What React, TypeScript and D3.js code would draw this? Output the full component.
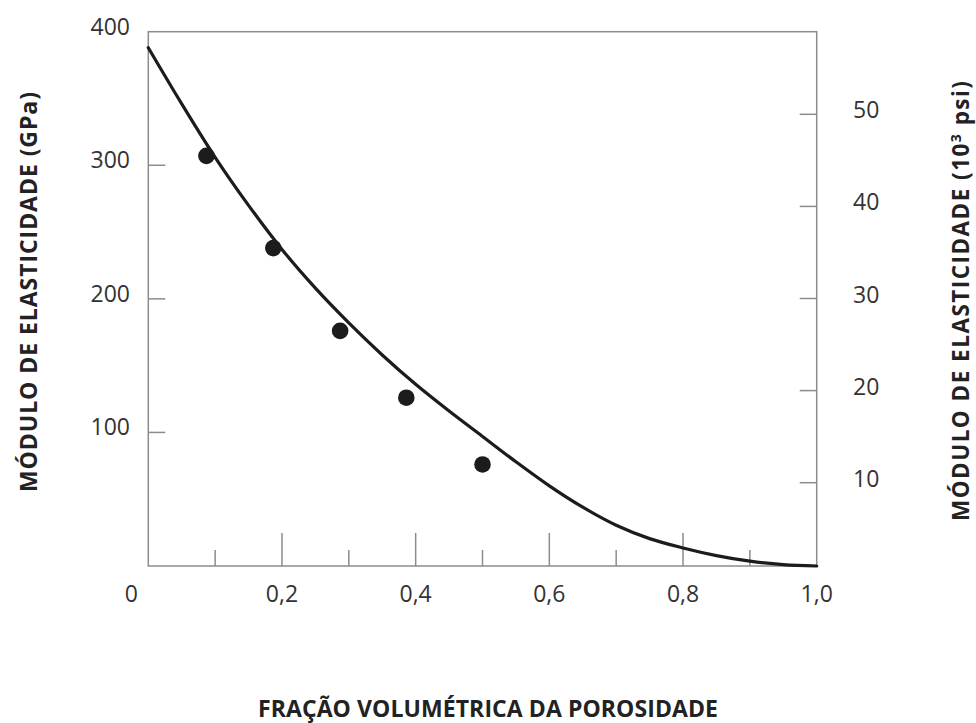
import React from "react";
import * as d3 from "d3";

// Porosity volume fraction (x) vs elastic modulus (GPa)
const curveP = [0, 0.05, 0.1, 0.15, 0.2, 0.25, 0.3, 0.35, 0.4, 0.45, 0.5, 0.55, 0.6, 0.65, 0.7, 0.75, 0.8, 0.85, 0.9, 0.95, 1.0];
const curveE = [388, 346, 306, 270, 237, 208, 182, 158, 136, 116, 97, 78, 60, 44, 30.5, 20.5, 13.5, 7.8, 3.6, 1, 0];

const pointP = [0.087, 0.187, 0.287, 0.386, 0.5];
const pointE = [307, 238, 176, 126, 76];

const xMinorTicks = [0.1, 0.3, 0.5, 0.7, 0.9];
const xMajorTicks = [0.2, 0.4, 0.6, 0.8];
const xLabelValues = [0, 0.2, 0.4, 0.6, 0.8, 1.0];
const xLabelTexts = ["0", "0,2", "0,4", "0,6", "0,8", "1,0"];

const gpaTicks = [100, 200, 300];
const gpaLabels = [100, 200, 300, 400];
const psiTicks = [10, 20, 30, 40, 50];

const xTitle = "FRAÇÃO VOLUMÉTRICA DA POROSIDADE";
const leftTitle = "MÓDULO DE ELASTICIDADE (GPa)";
const rightTitleMain = "MÓDULO DE ELASTICIDADE (10";
const rightTitleSup = "3";
const rightTitleEnd = " psi)";

const W = 976;
const H = 723;
const left = 148.3;
const right = 816.7;
const top = 31.7;
const bottom = 566;

const FONT = "'Open Sans', 'Noto Sans', sans-serif";
const FRAME = "#8c8c8c";
const INK = "#1c1c1c";
const TEXT = "#333";

export default function App() {
  const x = d3.scaleLinear().domain([0, 1]).range([left, right]);
  const y = d3.scaleLinear().domain([0, 400]).range([bottom, top]);
  const yPsi = d3.scaleLinear().domain([0, 60]).range([574.8, 22.2]);

  const line = d3
    .line<number>()
    .x((_, i) => x(curveP[i]))
    .y((e) => y(e))
    .curve(d3.curveMonotoneX);

  return (
    <svg
      width={W}
      height={H}
      viewBox={`0 0 ${W} ${H}`}
      style={{ position: "absolute", left: 0, top: 0, background: "#fff" }}
    >
      <rect x={0} y={0} width={W} height={H} fill="#fff" />

      {/* frame */}
      <rect
        x={left}
        y={top}
        width={right - left}
        height={bottom - top}
        fill="none"
        stroke={FRAME}
        strokeWidth={1.5}
      />

      {/* bottom ticks */}
      {xMinorTicks.map((v) => (
        <line key={`mn${v}`} x1={x(v)} x2={x(v)} y1={bottom} y2={bottom - 16} stroke={FRAME} strokeWidth={1.5} />
      ))}
      {xMajorTicks.map((v) => (
        <line key={`mj${v}`} x1={x(v)} x2={x(v)} y1={bottom} y2={bottom - 33} stroke={FRAME} strokeWidth={1.5} />
      ))}

      {/* left ticks */}
      {gpaTicks.map((v) => (
        <line key={`g${v}`} x1={left} x2={left + 17} y1={y(v)} y2={y(v)} stroke={FRAME} strokeWidth={1.5} />
      ))}

      {/* right ticks */}
      {psiTicks.map((v) => (
        <line key={`p${v}`} x1={right} x2={right - 17} y1={yPsi(v)} y2={yPsi(v)} stroke={FRAME} strokeWidth={1.5} />
      ))}

      {/* x labels */}
      {xLabelValues.map((v, i) => (
        <text
          key={`xl${v}`}
          x={v === 0 ? x(v) - 17 : x(v)}
          y={601.5}
          textAnchor="middle"
          fontFamily={FONT}
          fontSize={23}
          fill={TEXT}
        >
          {xLabelTexts[i]}
        </text>
      ))}

      {/* left labels */}
      {gpaLabels.map((v) => (
        <text key={`gl${v}`} x={130} y={y(v) + 3} textAnchor="end" fontFamily={FONT} fontSize={23} fill={TEXT}>
          {v}
        </text>
      ))}

      {/* right labels */}
      {psiTicks.map((v) => (
        <text key={`pl${v}`} x={853} y={yPsi(v) + 4} textAnchor="start" fontFamily={FONT} fontSize={23} fill={TEXT}>
          {v}
        </text>
      ))}

      {/* fitted curve */}
      <path d={line(curveE) ?? ""} fill="none" stroke={INK} strokeWidth={3.2} strokeLinecap="round" />

      {/* measured points */}
      {pointP.map((p, i) => (
        <circle key={`pt${i}`} cx={x(p)} cy={y(pointE[i])} r={8.3} fill={INK} />
      ))}

      {/* axis titles */}
      <text
        x={488}
        y={716.5}
        textAnchor="middle"
        fontFamily={FONT}
        fontWeight={700}
        fontSize={23}
        textLength={460}
        fill="#222"
      >
        {xTitle}
      </text>
      <text
        transform="translate(36.5, 292) rotate(-90)"
        textAnchor="middle"
        fontFamily={FONT}
        fontWeight={700}
        fontSize={23}
        textLength={400}
        fill="#222"
      >
        {leftTitle}
      </text>
      <text
        transform="translate(969, 301) rotate(-90)"
        textAnchor="middle"
        fontFamily={FONT}
        fontWeight={700}
        fontSize={22.5}
        textLength={440}
        fill="#222"
      >
        {rightTitleMain}
        <tspan dy={-8} fontSize={14}>
          {rightTitleSup}
        </tspan>
        <tspan dy={8}>{rightTitleEnd}</tspan>
      </text>
    </svg>
  );
}
